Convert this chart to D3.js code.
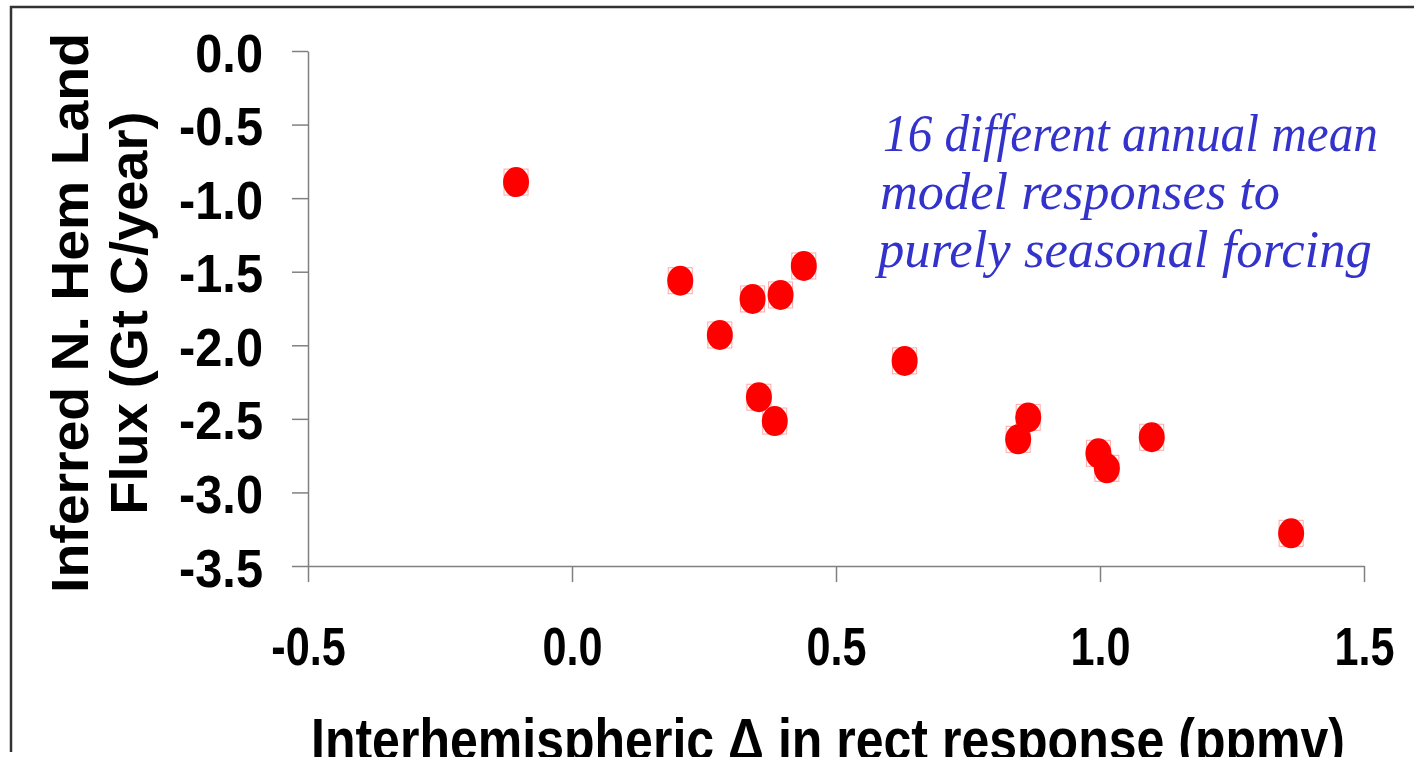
<!DOCTYPE html>
<html lang="en">

<head>
    <meta charset="UTF-8">
    <title>Inferred N. Hem Land Flux</title>
    <style>
        body {
            margin: 0;
            background: #fff;
        }
    </style>
</head>

<body>
    <script src="https://d3js.org/d3.v7.min.js"></script>
    <script>
        // Model responses.
        const rectDiff = [-0.106, 0.205, 0.280, 0.342, 0.395, 0.439, 0.354, 0.384,
            0.630, 0.864, 0.845, 0.997, 1.013, 1.098, 1.362];
        const landFlux = [-0.891, -1.561, -1.930, -1.685, -1.658, -1.461, -2.353, -2.515,
            -2.106, -2.490, -2.639, -2.734, -2.836, -2.625, -3.278];

        const xTicks = [-0.5, 0.0, 0.5, 1.0, 1.5];
        const yTicks = [0.0, -0.5, -1.0, -1.5, -2.0, -2.5, -3.0, -3.5];

        const yTitle = ['Inferred N. Hem Land', 'Flux (Gt C/year)'];
        const xTitle = 'Interhemispheric \u0394 in rect response (ppmv)';
        const note = ['16 different annual mean', 'model responses to', 'purely seasonal forcing'];

        const WIDTH = 1414;
        const HEIGHT = 757;
        const AXIS_COLOR = '#808080';
        const BOLD = 'Arial, "Liberation Sans", sans-serif';

        // plain hyphen for negatives, like the original
        const fmt = d => d.toFixed(1);

        const dataSet = rectDiff.map((x, i) => ({ x: x, y: landFlux[i] }));

        const svg = d3.select('body')
            .append('svg')
            .attr('width', WIDTH)
            .attr('height', HEIGHT);

        // frame of the slide, only top and left edges show
        svg.append('path')
            .attr('d', 'M11,752 L11,7 L1414,7')
            .attr('fill', 'none')
            .attr('stroke', '#333')
            .attr('stroke-width', 2.5);

        const xScale = d3.scaleLinear().domain([-0.5, 1.5]).range([308, 1364]);
        const yScale = d3.scaleLinear().domain([-3.5, 0]).range([566, 51]);

        // Y axis
        const yAxis = svg.append('g')
            .attr('transform', 'translate(308,0)')
            .call(d3.axisLeft(yScale).tickValues(yTicks).tickFormat(fmt)
                .tickSize(16).tickSizeOuter(0));

        yAxis.selectAll('text')
            .attr('x', 0)
            .attr('dy', 0)
            .attr('transform', 'translate(-45,20) scale(0.92,1)')
            .style('font', `bold 53px ${BOLD}`)
            .attr('fill', '#000');

        // X axis
        const xAxis = svg.append('g')
            .attr('transform', 'translate(0,566)')
            .call(d3.axisBottom(xScale).tickValues(xTicks).tickFormat(fmt)
                .tickSize(16).tickSizeOuter(0));

        xAxis.selectAll('text')
            .attr('y', 0)
            .attr('dy', 0)
            .attr('transform', 'translate(0,99) scale(0.8,1)')
            .style('font', `bold 54px ${BOLD}`)
            .attr('fill', '#000');

        [yAxis, xAxis].forEach(ax => {
            ax.selectAll('path, line')
                .attr('stroke', AXIS_COLOR)
                .attr('stroke-width', 1.5);
        });

        // axis titles
        const yTitleX = [88, 147];
        const yTitleLen = [560, 403];
        svg.selectAll('.ytitle')
            .data(yTitle)
            .enter()
            .append('text')
            .attr('class', 'ytitle')
            .attr('transform', (d, i) => `translate(${yTitleX[i]},313) rotate(-90)`)
            .attr('text-anchor', 'middle')
            .attr('textLength', (d, i) => yTitleLen[i])
            .attr('lengthAdjust', 'spacingAndGlyphs')
            .style('font', `bold 51px ${BOLD}`)
            .text(d => d);

        // the original slide crops this title at the bottom edge
        svg.append('text')
            .attr('x', 311)
            .attr('y', 760)
            .attr('textLength', 1034)
            .attr('lengthAdjust', 'spacingAndGlyphs')
            .style('font', `bold 59px ${BOLD}`)
            .text(xTitle);

        // annotation
        const noteY = [151, 209, 267];
        const noteX = [883, 880, 878];
        const noteLen = [495, 400, 494];
        svg.selectAll('.note')
            .data(note)
            .enter()
            .append('text')
            .attr('class', 'note')
            .attr('x', (d, i) => noteX[i])
            .attr('y', (d, i) => noteY[i])
            .attr('textLength', (d, i) => noteLen[i])
            .attr('lengthAdjust', 'spacingAndGlyphs')
            .attr('fill', '#3333cc')
            .style('font', 'italic 53px "Times New Roman", "Liberation Serif", serif')
            .text(d => d);

        // markers
        const marks = svg.append('g')
            .selectAll('g')
            .data(dataSet)
            .enter()
            .append('g')
            .attr('transform', d => `translate(${xScale(d.x)},${yScale(d.y)})`);

        marks.append('rect')
            .attr('x', -12)
            .attr('y', -13)
            .attr('width', 24)
            .attr('height', 26)
            .attr('fill', 'none')
            .attr('stroke', '#ff0000')
            .attr('stroke-opacity', 0.35)
            .attr('stroke-width', 1);

        marks.append('ellipse')
            .attr('rx', 13)
            .attr('ry', 15)
            .attr('fill', '#ff0000');
    </script>
</body>

</html>
